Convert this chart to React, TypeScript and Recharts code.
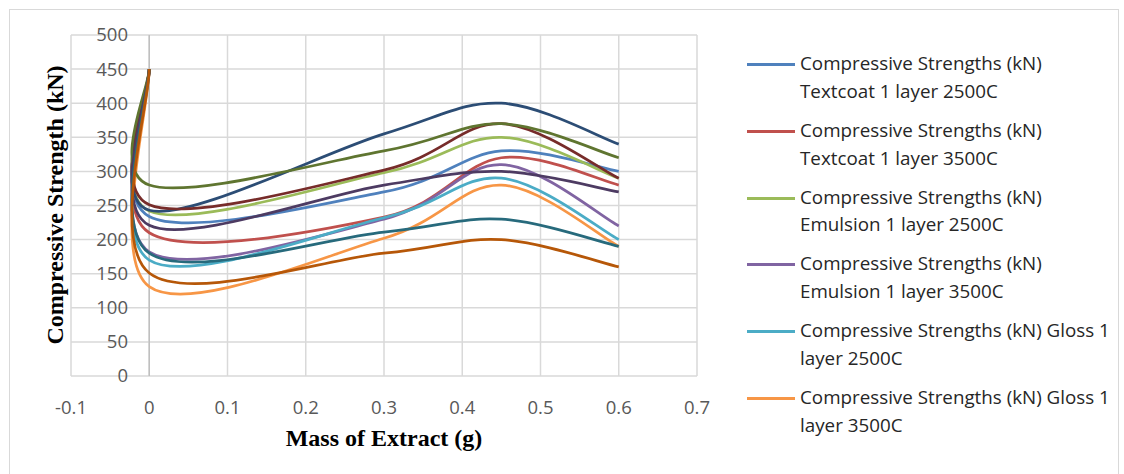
import React from "react";
import { LineChart, Line, XAxis, YAxis, CartesianGrid, ReferenceLine } from "recharts";

// mass of extract (g) - first two points both sit at 0
const massOfExtract = [0, 0, 0.3, 0.45, 0.6];

// compressive strength (kN) per series
const textcoat1Layer2500 = [450, 234, 270, 330, 300];
const textcoat1Layer3500 = [450, 210, 233, 320, 280];
const emulsion1Layer2500 = [450, 242, 298, 350, 290];
const emulsion1Layer3500 = [450, 182, 230, 310, 220];
const gloss1Layer2500 = [450, 170, 232, 290, 200];
const gloss1Layer3500 = [450, 131, 202, 280, 190];
const series7 = [450, 243, 355, 400, 340];
const series8 = [450, 251, 302, 370, 290];
const series9 = [450, 280, 330, 370, 320];
const series10 = [450, 221, 280, 300, 270];
const series11 = [450, 180, 211, 230, 190];
const series12 = [450, 151, 180, 200, 160];

const seriesValues = [
  textcoat1Layer2500, textcoat1Layer3500, emulsion1Layer2500, emulsion1Layer3500,
  gloss1Layer2500, gloss1Layer3500, series7, series8, series9, series10, series11, series12,
];
const seriesColors = [
  "#4F81BD", "#C0504D", "#9BBB59", "#8064A2", "#4BACC6", "#F79646",
  "#2C4D75", "#772C2A", "#5F7530", "#4D3B62", "#276A7C", "#B65708",
];
// only the first six fit in the legend box
const legendLabels = [
  ["Compressive Strengths (kN)", "Textcoat 1 layer 2500C"],
  ["Compressive Strengths (kN)", "Textcoat 1 layer 3500C"],
  ["Compressive Strengths (kN)", "Emulsion 1 layer 2500C"],
  ["Compressive Strengths (kN)", "Emulsion 1 layer 3500C"],
  ["Compressive Strengths (kN) Gloss 1", "layer 2500C"],
  ["Compressive Strengths (kN) Gloss 1", "layer 3500C"],
];

const xTicks = [-0.1, 0, 0.1, 0.2, 0.3, 0.4, 0.5, 0.6, 0.7];
const yTicks = [0, 50, 100, 150, 200, 250, 300, 350, 400, 450, 500];

const FONT = "'Open Sans', sans-serif";
const TITLE_FONT = "'Liberation Serif', 'Times New Roman', serif";

// Excel-like smoothed line (Catmull-Rom style bezier, 1/6 of neighbour difference)
function excelSmooth(context: any) {
  let pts: number[][] = [];
  return {
    areaStart() {},
    areaEnd() {},
    lineStart() {
      pts = [];
    },
    point(x: number, y: number) {
      pts.push([+x, +y]);
    },
    lineEnd() {
      const n = pts.length;
      if (!n) return;
      context.moveTo(pts[0][0], pts[0][1]);
      for (let i = 0; i < n - 1; i++) {
        const p0 = pts[Math.max(i - 1, 0)];
        const p1 = pts[i];
        const p2 = pts[i + 1];
        const p3 = pts[Math.min(i + 2, n - 1)];
        context.bezierCurveTo(
          p1[0] + (p2[0] - p0[0]) / 6,
          p1[1] + (p2[1] - p0[1]) / 6,
          p2[0] - (p3[0] - p1[0]) / 6,
          p2[1] - (p3[1] - p1[1]) / 6,
          p2[0],
          p2[1]
        );
      }
    },
  };
}

const YTick = ({ y, payload }: any) => (
  <text x={128} y={y} dy="0.35em" textAnchor="end" fill="#595959" fontSize={18.5} fontFamily={FONT}>
    {payload.value}
  </text>
);

const XTick = ({ x, payload }: any) => (
  <text x={x} y={408} dy="0.35em" textAnchor="middle" fill="#595959" fontSize={18.5} fontFamily={FONT}>
    {payload.value}
  </text>
);

export default function App() {
  const lines = seriesValues.map((vals) => vals.map((v, i) => ({ x: massOfExtract[i], y: v })));

  return (
    <div style={{ position: "absolute", left: 0, top: 0, width: 1124, height: 474, background: "#fff", overflow: "hidden" }}>
      <div style={{ position: "absolute", left: 9, top: 9, width: 1108, height: 480, border: "1px solid #d9d9d9" }} />

      <LineChart width={1124} height={474} margin={{ top: 35, right: 427, bottom: 0, left: 0 }}>
        <CartesianGrid stroke="#d9d9d9" strokeWidth={1.5} />
        <XAxis
          type="number"
          dataKey="x"
          domain={[-0.1, 0.7]}
          ticks={xTicks}
          height={98}
          axisLine={false}
          tickLine={false}
          tick={<XTick />}
          allowDuplicatedCategory={false}
        />
        <YAxis
          type="number"
          domain={[0, 500]}
          ticks={yTicks}
          width={71}
          axisLine={false}
          tickLine={false}
          tick={<YTick />}
        />
        <ReferenceLine x={0} stroke="#bfbfbf" strokeWidth={1.5} />
        {lines.map((d, i) => (
          <Line
            key={i}
            data={d}
            dataKey="y"
            type={excelSmooth as any}
            stroke={seriesColors[i]}
            strokeWidth={2.75}
            dot={false}
            activeDot={false}
            isAnimationActive={false}
          />
        ))}
      </LineChart>

      <div
        style={{
          position: "absolute", left: 55, top: 205, transform: "translate(-50%, -50%) rotate(-90deg)",
          whiteSpace: "nowrap", fontFamily: TITLE_FONT, fontWeight: "bold", fontSize: 24, color: "#000",
        }}
      >
        Compressive Strength (kN)
      </div>
      <div
        style={{
          position: "absolute", left: 384, top: 438, transform: "translate(-50%, -50%)",
          whiteSpace: "nowrap", fontFamily: TITLE_FONT, fontWeight: "bold", fontSize: 24, color: "#000",
        }}
      >
        Mass of Extract (g)
      </div>

      {legendLabels.map((lbl, i) => (
        <div key={i} style={{ position: "absolute", left: 747, top: 50 + i * 66.8, fontFamily: FONT, fontSize: 18.8, color: "#262626" }}>
          <div style={{ position: "absolute", left: 0, top: 13, width: 48, height: 3, background: seriesColors[i] }} />
          <div style={{ position: "absolute", left: 53, top: 0, whiteSpace: "nowrap", lineHeight: "27.7px" }}>
            {lbl[0]}
            <br />
            {lbl[1]}
          </div>
        </div>
      ))}
    </div>
  );
}
